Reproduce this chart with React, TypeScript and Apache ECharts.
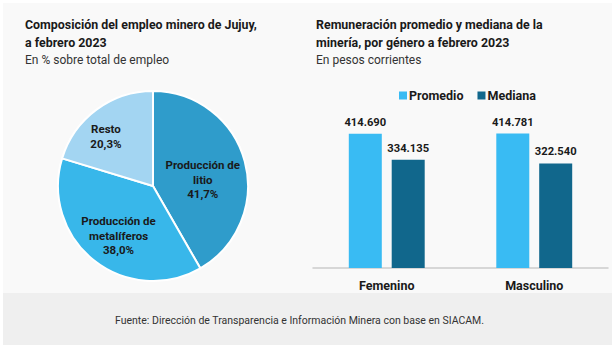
import React, { useEffect, useRef } from "react";
import * as echarts from "echarts";

const pieNames = ["Producción de\nlitio", "Producción de\nmetalíferos", "Resto"];
const pieValues = [41.7, 38.0, 20.3];
const pieLabels = ["41,7%", "38,0%", "20,3%"];

const barCategories = ["Femenino", "Masculino"];
const promedio = [414690, 414781];
const mediana = [334135, 322540];

const FONT = "Roboto, 'Noto Sans', sans-serif";

function fmt(v: number): string {
  return String(v).replace(/\B(?=(\d{3})+(?!\d))/g, ".");
}

export default function App() {
  const ref = useRef<HTMLDivElement>(null);
  useEffect(() => {
    document.body.style.margin = "0";
    const chart = echarts.init(ref.current!, null, { renderer: "svg" });
    const labelShift: Record<number, [number, number]> = {
      0: [1, 7],
      1: [-3, 10],
      2: [-17, -9],
    };
    chart.setOption({
      animation: false,
      backgroundColor: "#ffffff",
      textStyle: { fontFamily: FONT },
      graphic: [
        { type: "rect", shape: { x: 3, y: 3, width: 609, height: 342 }, style: { fill: "#f9f9f9" }, z: -10 },
        { type: "rect", shape: { x: 3, y: 293, width: 609, height: 52 }, style: { fill: "#efefef" }, z: -9 },
        { type: "text", left: 25, top: 15, style: { text: "Composición del empleo minero de Jujuy,\na febrero 2023", font: `bold 12.4px ${FONT}`, fill: "#1a1a1a", lineHeight: 18.5 } },
        { type: "text", left: 25, top: 54, style: { text: "En % sobre total de empleo", font: `12px ${FONT}`, fill: "#333333" } },
        { type: "text", left: 316, top: 15, style: { text: "Remuneración promedio y mediana de la\nminería, por género a febrero 2023", font: `bold 12.4px ${FONT}`, fill: "#1a1a1a", lineHeight: 18.5 } },
        { type: "text", left: 316, top: 54, style: { text: "En pesos corrientes", font: `12px ${FONT}`, fill: "#333333" } },
        { type: "text", left: 115, top: 315, style: { text: "Fuente: Dirección de Transparencia e Información Minera con base en SIACAM.", font: `10.5px ${FONT}`, fill: "#333333" } },
      ],
      legend: {
        data: ["Promedio", "Mediana"],
        left: 394,
        top: 84,
        icon: "rect",
        itemWidth: 8,
        itemHeight: 8,
        itemGap: 14,
        textStyle: { fontWeight: "bold", fontSize: 12.5, color: "#1a1a1a", fontFamily: FONT, padding: [0, 0, 0, -3] },
      },
      grid: { left: 313, right: 7, top: 106, bottom: 84 },
      xAxis: {
        type: "category",
        data: barCategories,
        axisLine: { lineStyle: { color: "#cccccc", width: 1.5 } },
        axisTick: { show: false },
        axisLabel: { fontWeight: "bold", fontSize: 12.5, color: "#1a1a1a", margin: 11, fontFamily: FONT },
      },
      yAxis: { type: "value", min: 0, max: 500000, show: false, splitLine: { show: false } },
      series: [
        {
          type: "pie",
          center: [153, 186],
          radius: 95,
          startAngle: 90,
          clockwise: true,
          avoidLabelOverlap: false,
          itemStyle: { borderColor: "#ffffff", borderWidth: 2 },
          label: {
            position: "inside",
            fontWeight: "bold",
            fontSize: 11.5,
            lineHeight: 14.5,
            color: "#1a1a1a",
            fontFamily: FONT,
            formatter: (p: any) => `${p.name}\n${pieLabels[p.dataIndex]}`,
          },
          labelLayout: (p: any) => ({ dx: labelShift[p.dataIndex][0], dy: labelShift[p.dataIndex][1] }),
          data: pieNames.map((n, i) => ({
            name: n,
            value: pieValues[i],
            itemStyle: { color: ["#2f9ccb", "#38b7ea", "#a3d5f2"][i] },
          })),
        },
        {
          name: "Promedio",
          type: "bar",
          data: promedio,
          barWidth: 33,
          barGap: "30%",
          itemStyle: { color: "#39bbf3" },
          label: { show: true, position: "top", distance: 6, fontWeight: "bold", fontSize: 11.2, color: "#1a1a1a", fontFamily: FONT, formatter: (p: any) => fmt(p.value) },
        },
        {
          name: "Mediana",
          type: "bar",
          data: mediana,
          barWidth: 33,
          itemStyle: { color: "#11678c" },
          label: { show: true, position: "top", distance: 6, fontWeight: "bold", fontSize: 11.2, color: "#1a1a1a", fontFamily: FONT, formatter: (p: any) => fmt(p.value) },
        },
      ],
    });
    return () => chart.dispose();
  }, []);
  return <div ref={ref} style={{ width: 615, height: 352 }} />;
}
